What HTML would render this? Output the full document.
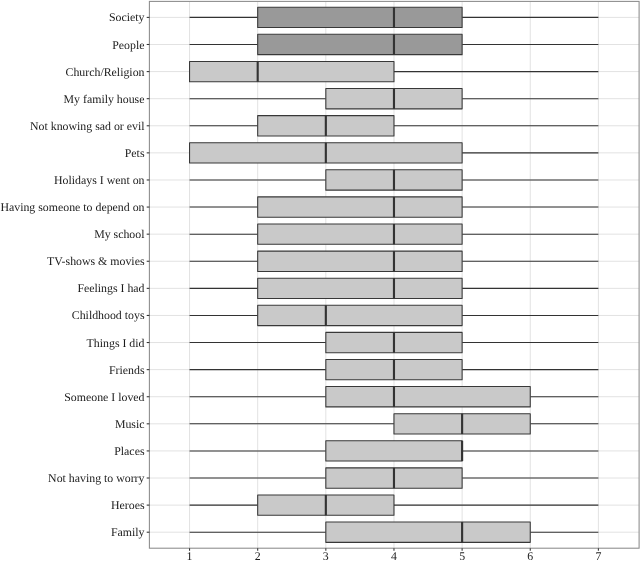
<!DOCTYPE html><html><head><meta charset="utf-8"><style>html,body{margin:0;padding:0;background:#fff}svg{display:block}text{text-rendering:geometricPrecision;font-family:"Liberation Serif","Times New Roman",serif;font-size:11.85px;fill:#1a1a1a}</style></head><body>
<svg width="640" height="562" viewBox="0 0 640 562">
<rect width="640" height="562" fill="#fff"/>
<line x1="189.55" x2="189.55" y1="1.4" y2="548.2" stroke="#e2e2e2" stroke-width="1"/>
<line x1="257.69" x2="257.69" y1="1.4" y2="548.2" stroke="#e2e2e2" stroke-width="1"/>
<line x1="325.83" x2="325.83" y1="1.4" y2="548.2" stroke="#e2e2e2" stroke-width="1"/>
<line x1="393.97" x2="393.97" y1="1.4" y2="548.2" stroke="#e2e2e2" stroke-width="1"/>
<line x1="462.11" x2="462.11" y1="1.4" y2="548.2" stroke="#e2e2e2" stroke-width="1"/>
<line x1="530.25" x2="530.25" y1="1.4" y2="548.2" stroke="#e2e2e2" stroke-width="1"/>
<line x1="598.39" x2="598.39" y1="1.4" y2="548.2" stroke="#e2e2e2" stroke-width="1"/>
<line x1="149.4" x2="639.1" y1="17.40" y2="17.40" stroke="#e2e2e2" stroke-width="1"/>
<line x1="149.4" x2="639.1" y1="44.49" y2="44.49" stroke="#e2e2e2" stroke-width="1"/>
<line x1="149.4" x2="639.1" y1="71.59" y2="71.59" stroke="#e2e2e2" stroke-width="1"/>
<line x1="149.4" x2="639.1" y1="98.68" y2="98.68" stroke="#e2e2e2" stroke-width="1"/>
<line x1="149.4" x2="639.1" y1="125.78" y2="125.78" stroke="#e2e2e2" stroke-width="1"/>
<line x1="149.4" x2="639.1" y1="152.87" y2="152.87" stroke="#e2e2e2" stroke-width="1"/>
<line x1="149.4" x2="639.1" y1="179.97" y2="179.97" stroke="#e2e2e2" stroke-width="1"/>
<line x1="149.4" x2="639.1" y1="207.06" y2="207.06" stroke="#e2e2e2" stroke-width="1"/>
<line x1="149.4" x2="639.1" y1="234.16" y2="234.16" stroke="#e2e2e2" stroke-width="1"/>
<line x1="149.4" x2="639.1" y1="261.25" y2="261.25" stroke="#e2e2e2" stroke-width="1"/>
<line x1="149.4" x2="639.1" y1="288.35" y2="288.35" stroke="#e2e2e2" stroke-width="1"/>
<line x1="149.4" x2="639.1" y1="315.44" y2="315.44" stroke="#e2e2e2" stroke-width="1"/>
<line x1="149.4" x2="639.1" y1="342.54" y2="342.54" stroke="#e2e2e2" stroke-width="1"/>
<line x1="149.4" x2="639.1" y1="369.63" y2="369.63" stroke="#e2e2e2" stroke-width="1"/>
<line x1="149.4" x2="639.1" y1="396.73" y2="396.73" stroke="#e2e2e2" stroke-width="1"/>
<line x1="149.4" x2="639.1" y1="423.82" y2="423.82" stroke="#e2e2e2" stroke-width="1"/>
<line x1="149.4" x2="639.1" y1="450.92" y2="450.92" stroke="#e2e2e2" stroke-width="1"/>
<line x1="149.4" x2="639.1" y1="478.01" y2="478.01" stroke="#e2e2e2" stroke-width="1"/>
<line x1="149.4" x2="639.1" y1="505.11" y2="505.11" stroke="#e2e2e2" stroke-width="1"/>
<line x1="149.4" x2="639.1" y1="532.20" y2="532.20" stroke="#e2e2e2" stroke-width="1"/>
<line x1="189.55" x2="257.69" y1="17.40" y2="17.40" stroke="#333" stroke-width="1.07"/>
<line x1="462.11" x2="598.39" y1="17.40" y2="17.40" stroke="#333" stroke-width="1.07"/>
<rect x="257.69" y="7.24" width="204.42" height="20.32" fill="#999999" stroke="#383838" stroke-width="1.07" stroke-linejoin="round"/>
<line x1="393.97" x2="393.97" y1="7.24" y2="27.56" stroke="#333" stroke-width="2.13"/>
<line x1="189.55" x2="257.69" y1="44.49" y2="44.49" stroke="#333" stroke-width="1.07"/>
<line x1="462.11" x2="598.39" y1="44.49" y2="44.49" stroke="#333" stroke-width="1.07"/>
<rect x="257.69" y="34.33" width="204.42" height="20.32" fill="#999999" stroke="#383838" stroke-width="1.07" stroke-linejoin="round"/>
<line x1="393.97" x2="393.97" y1="34.33" y2="54.66" stroke="#333" stroke-width="2.13"/>
<line x1="189.55" x2="189.55" y1="71.59" y2="71.59" stroke="#333" stroke-width="1.07"/>
<line x1="393.97" x2="598.39" y1="71.59" y2="71.59" stroke="#333" stroke-width="1.07"/>
<rect x="189.55" y="61.43" width="204.42" height="20.32" fill="#c9c9c9" stroke="#383838" stroke-width="1.07" stroke-linejoin="round"/>
<line x1="257.69" x2="257.69" y1="61.43" y2="81.75" stroke="#333" stroke-width="2.13"/>
<line x1="189.55" x2="325.83" y1="98.68" y2="98.68" stroke="#333" stroke-width="1.07"/>
<line x1="462.11" x2="598.39" y1="98.68" y2="98.68" stroke="#333" stroke-width="1.07"/>
<rect x="325.83" y="88.52" width="136.28" height="20.32" fill="#c9c9c9" stroke="#383838" stroke-width="1.07" stroke-linejoin="round"/>
<line x1="393.97" x2="393.97" y1="88.52" y2="108.84" stroke="#333" stroke-width="2.13"/>
<line x1="189.55" x2="257.69" y1="125.78" y2="125.78" stroke="#333" stroke-width="1.07"/>
<line x1="393.97" x2="598.39" y1="125.78" y2="125.78" stroke="#333" stroke-width="1.07"/>
<rect x="257.69" y="115.62" width="136.28" height="20.32" fill="#c9c9c9" stroke="#383838" stroke-width="1.07" stroke-linejoin="round"/>
<line x1="325.83" x2="325.83" y1="115.62" y2="135.94" stroke="#333" stroke-width="2.13"/>
<line x1="189.55" x2="189.55" y1="152.87" y2="152.87" stroke="#333" stroke-width="1.07"/>
<line x1="462.11" x2="598.39" y1="152.87" y2="152.87" stroke="#333" stroke-width="1.07"/>
<rect x="189.55" y="142.71" width="272.56" height="20.32" fill="#c9c9c9" stroke="#383838" stroke-width="1.07" stroke-linejoin="round"/>
<line x1="325.83" x2="325.83" y1="142.71" y2="163.03" stroke="#333" stroke-width="2.13"/>
<line x1="189.55" x2="325.83" y1="179.97" y2="179.97" stroke="#333" stroke-width="1.07"/>
<line x1="462.11" x2="598.39" y1="179.97" y2="179.97" stroke="#333" stroke-width="1.07"/>
<rect x="325.83" y="169.81" width="136.28" height="20.32" fill="#c9c9c9" stroke="#383838" stroke-width="1.07" stroke-linejoin="round"/>
<line x1="393.97" x2="393.97" y1="169.81" y2="190.13" stroke="#333" stroke-width="2.13"/>
<line x1="189.55" x2="257.69" y1="207.06" y2="207.06" stroke="#333" stroke-width="1.07"/>
<line x1="462.11" x2="598.39" y1="207.06" y2="207.06" stroke="#333" stroke-width="1.07"/>
<rect x="257.69" y="196.90" width="204.42" height="20.32" fill="#c9c9c9" stroke="#383838" stroke-width="1.07" stroke-linejoin="round"/>
<line x1="393.97" x2="393.97" y1="196.90" y2="217.22" stroke="#333" stroke-width="2.13"/>
<line x1="189.55" x2="257.69" y1="234.16" y2="234.16" stroke="#333" stroke-width="1.07"/>
<line x1="462.11" x2="598.39" y1="234.16" y2="234.16" stroke="#333" stroke-width="1.07"/>
<rect x="257.69" y="224.00" width="204.42" height="20.32" fill="#c9c9c9" stroke="#383838" stroke-width="1.07" stroke-linejoin="round"/>
<line x1="393.97" x2="393.97" y1="224.00" y2="244.32" stroke="#333" stroke-width="2.13"/>
<line x1="189.55" x2="257.69" y1="261.25" y2="261.25" stroke="#333" stroke-width="1.07"/>
<line x1="462.11" x2="598.39" y1="261.25" y2="261.25" stroke="#333" stroke-width="1.07"/>
<rect x="257.69" y="251.09" width="204.42" height="20.32" fill="#c9c9c9" stroke="#383838" stroke-width="1.07" stroke-linejoin="round"/>
<line x1="393.97" x2="393.97" y1="251.09" y2="271.41" stroke="#333" stroke-width="2.13"/>
<line x1="189.55" x2="257.69" y1="288.35" y2="288.35" stroke="#333" stroke-width="1.07"/>
<line x1="462.11" x2="598.39" y1="288.35" y2="288.35" stroke="#333" stroke-width="1.07"/>
<rect x="257.69" y="278.19" width="204.42" height="20.32" fill="#c9c9c9" stroke="#383838" stroke-width="1.07" stroke-linejoin="round"/>
<line x1="393.97" x2="393.97" y1="278.19" y2="298.51" stroke="#333" stroke-width="2.13"/>
<line x1="189.55" x2="257.69" y1="315.44" y2="315.44" stroke="#333" stroke-width="1.07"/>
<line x1="462.11" x2="598.39" y1="315.44" y2="315.44" stroke="#333" stroke-width="1.07"/>
<rect x="257.69" y="305.28" width="204.42" height="20.32" fill="#c9c9c9" stroke="#383838" stroke-width="1.07" stroke-linejoin="round"/>
<line x1="325.83" x2="325.83" y1="305.28" y2="325.60" stroke="#333" stroke-width="2.13"/>
<line x1="189.55" x2="325.83" y1="342.54" y2="342.54" stroke="#333" stroke-width="1.07"/>
<line x1="462.11" x2="598.39" y1="342.54" y2="342.54" stroke="#333" stroke-width="1.07"/>
<rect x="325.83" y="332.38" width="136.28" height="20.32" fill="#c9c9c9" stroke="#383838" stroke-width="1.07" stroke-linejoin="round"/>
<line x1="393.97" x2="393.97" y1="332.38" y2="352.70" stroke="#333" stroke-width="2.13"/>
<line x1="189.55" x2="325.83" y1="369.63" y2="369.63" stroke="#333" stroke-width="1.07"/>
<line x1="462.11" x2="598.39" y1="369.63" y2="369.63" stroke="#333" stroke-width="1.07"/>
<rect x="325.83" y="359.47" width="136.28" height="20.32" fill="#c9c9c9" stroke="#383838" stroke-width="1.07" stroke-linejoin="round"/>
<line x1="393.97" x2="393.97" y1="359.47" y2="379.79" stroke="#333" stroke-width="2.13"/>
<line x1="189.55" x2="325.83" y1="396.73" y2="396.73" stroke="#333" stroke-width="1.07"/>
<line x1="530.25" x2="598.39" y1="396.73" y2="396.73" stroke="#333" stroke-width="1.07"/>
<rect x="325.83" y="386.57" width="204.42" height="20.32" fill="#c9c9c9" stroke="#383838" stroke-width="1.07" stroke-linejoin="round"/>
<line x1="393.97" x2="393.97" y1="386.57" y2="406.89" stroke="#333" stroke-width="2.13"/>
<line x1="189.55" x2="393.97" y1="423.82" y2="423.82" stroke="#333" stroke-width="1.07"/>
<line x1="530.25" x2="598.39" y1="423.82" y2="423.82" stroke="#333" stroke-width="1.07"/>
<rect x="393.97" y="413.66" width="136.28" height="20.32" fill="#c9c9c9" stroke="#383838" stroke-width="1.07" stroke-linejoin="round"/>
<line x1="462.11" x2="462.11" y1="413.66" y2="433.98" stroke="#333" stroke-width="2.13"/>
<line x1="189.55" x2="325.83" y1="450.92" y2="450.92" stroke="#333" stroke-width="1.07"/>
<line x1="462.11" x2="598.39" y1="450.92" y2="450.92" stroke="#333" stroke-width="1.07"/>
<rect x="325.83" y="440.76" width="136.28" height="20.32" fill="#c9c9c9" stroke="#383838" stroke-width="1.07" stroke-linejoin="round"/>
<line x1="462.11" x2="462.11" y1="440.76" y2="461.08" stroke="#333" stroke-width="2.13"/>
<line x1="189.55" x2="325.83" y1="478.01" y2="478.01" stroke="#333" stroke-width="1.07"/>
<line x1="462.11" x2="598.39" y1="478.01" y2="478.01" stroke="#333" stroke-width="1.07"/>
<rect x="325.83" y="467.85" width="136.28" height="20.32" fill="#c9c9c9" stroke="#383838" stroke-width="1.07" stroke-linejoin="round"/>
<line x1="393.97" x2="393.97" y1="467.85" y2="488.17" stroke="#333" stroke-width="2.13"/>
<line x1="189.55" x2="257.69" y1="505.11" y2="505.11" stroke="#333" stroke-width="1.07"/>
<line x1="393.97" x2="598.39" y1="505.11" y2="505.11" stroke="#333" stroke-width="1.07"/>
<rect x="257.69" y="494.94" width="136.28" height="20.32" fill="#c9c9c9" stroke="#383838" stroke-width="1.07" stroke-linejoin="round"/>
<line x1="325.83" x2="325.83" y1="494.94" y2="515.27" stroke="#333" stroke-width="2.13"/>
<line x1="189.55" x2="325.83" y1="532.20" y2="532.20" stroke="#333" stroke-width="1.07"/>
<line x1="530.25" x2="598.39" y1="532.20" y2="532.20" stroke="#333" stroke-width="1.07"/>
<rect x="325.83" y="522.04" width="204.42" height="20.32" fill="#c9c9c9" stroke="#383838" stroke-width="1.07" stroke-linejoin="round"/>
<line x1="462.11" x2="462.11" y1="522.04" y2="542.36" stroke="#333" stroke-width="2.13"/>
<rect x="149.4" y="1.4" width="489.70000000000005" height="546.8000000000001" fill="none" stroke="#8c8c8c" stroke-width="1.07"/>
<line x1="146.70000000000002" x2="149.4" y1="17.40" y2="17.40" stroke="#333" stroke-width="1.07"/>
<text x="144.5" y="21.45" text-anchor="end">Society</text>
<line x1="146.70000000000002" x2="149.4" y1="44.49" y2="44.49" stroke="#333" stroke-width="1.07"/>
<text x="144.5" y="48.54" text-anchor="end">People</text>
<line x1="146.70000000000002" x2="149.4" y1="71.59" y2="71.59" stroke="#333" stroke-width="1.07"/>
<text x="144.5" y="75.64" text-anchor="end">Church/Religion</text>
<line x1="146.70000000000002" x2="149.4" y1="98.68" y2="98.68" stroke="#333" stroke-width="1.07"/>
<text x="144.5" y="102.73" text-anchor="end">My family house</text>
<line x1="146.70000000000002" x2="149.4" y1="125.78" y2="125.78" stroke="#333" stroke-width="1.07"/>
<text x="144.5" y="129.83" text-anchor="end">Not knowing sad or evil</text>
<line x1="146.70000000000002" x2="149.4" y1="152.87" y2="152.87" stroke="#333" stroke-width="1.07"/>
<text x="144.5" y="156.92" text-anchor="end">Pets</text>
<line x1="146.70000000000002" x2="149.4" y1="179.97" y2="179.97" stroke="#333" stroke-width="1.07"/>
<text x="144.5" y="184.02" text-anchor="end">Holidays I went on</text>
<line x1="146.70000000000002" x2="149.4" y1="207.06" y2="207.06" stroke="#333" stroke-width="1.07"/>
<text x="144.5" y="211.11" text-anchor="end">Having someone to depend on</text>
<line x1="146.70000000000002" x2="149.4" y1="234.16" y2="234.16" stroke="#333" stroke-width="1.07"/>
<text x="144.5" y="238.21" text-anchor="end">My school</text>
<line x1="146.70000000000002" x2="149.4" y1="261.25" y2="261.25" stroke="#333" stroke-width="1.07"/>
<text x="144.5" y="265.30" text-anchor="end">TV-shows &amp; movies</text>
<line x1="146.70000000000002" x2="149.4" y1="288.35" y2="288.35" stroke="#333" stroke-width="1.07"/>
<text x="144.5" y="292.40" text-anchor="end">Feelings I had</text>
<line x1="146.70000000000002" x2="149.4" y1="315.44" y2="315.44" stroke="#333" stroke-width="1.07"/>
<text x="144.5" y="319.49" text-anchor="end">Childhood toys</text>
<line x1="146.70000000000002" x2="149.4" y1="342.54" y2="342.54" stroke="#333" stroke-width="1.07"/>
<text x="144.5" y="346.59" text-anchor="end">Things I did</text>
<line x1="146.70000000000002" x2="149.4" y1="369.63" y2="369.63" stroke="#333" stroke-width="1.07"/>
<text x="144.5" y="373.68" text-anchor="end">Friends</text>
<line x1="146.70000000000002" x2="149.4" y1="396.73" y2="396.73" stroke="#333" stroke-width="1.07"/>
<text x="144.5" y="400.78" text-anchor="end">Someone I loved</text>
<line x1="146.70000000000002" x2="149.4" y1="423.82" y2="423.82" stroke="#333" stroke-width="1.07"/>
<text x="144.5" y="427.87" text-anchor="end">Music</text>
<line x1="146.70000000000002" x2="149.4" y1="450.92" y2="450.92" stroke="#333" stroke-width="1.07"/>
<text x="144.5" y="454.97" text-anchor="end">Places</text>
<line x1="146.70000000000002" x2="149.4" y1="478.01" y2="478.01" stroke="#333" stroke-width="1.07"/>
<text x="144.5" y="482.06" text-anchor="end">Not having to worry</text>
<line x1="146.70000000000002" x2="149.4" y1="505.11" y2="505.11" stroke="#333" stroke-width="1.07"/>
<text x="144.5" y="509.16" text-anchor="end">Heroes</text>
<line x1="146.70000000000002" x2="149.4" y1="532.20" y2="532.20" stroke="#333" stroke-width="1.07"/>
<text x="144.5" y="536.25" text-anchor="end">Family</text>
<line x1="189.55" x2="189.55" y1="548.2" y2="550.8000000000001" stroke="#333" stroke-width="1.07"/>
<text x="189.55" y="560.4" text-anchor="middle">1</text>
<line x1="257.69" x2="257.69" y1="548.2" y2="550.8000000000001" stroke="#333" stroke-width="1.07"/>
<text x="257.69" y="560.4" text-anchor="middle">2</text>
<line x1="325.83" x2="325.83" y1="548.2" y2="550.8000000000001" stroke="#333" stroke-width="1.07"/>
<text x="325.83" y="560.4" text-anchor="middle">3</text>
<line x1="393.97" x2="393.97" y1="548.2" y2="550.8000000000001" stroke="#333" stroke-width="1.07"/>
<text x="393.97" y="560.4" text-anchor="middle">4</text>
<line x1="462.11" x2="462.11" y1="548.2" y2="550.8000000000001" stroke="#333" stroke-width="1.07"/>
<text x="462.11" y="560.4" text-anchor="middle">5</text>
<line x1="530.25" x2="530.25" y1="548.2" y2="550.8000000000001" stroke="#333" stroke-width="1.07"/>
<text x="530.25" y="560.4" text-anchor="middle">6</text>
<line x1="598.39" x2="598.39" y1="548.2" y2="550.8000000000001" stroke="#333" stroke-width="1.07"/>
<text x="598.39" y="560.4" text-anchor="middle">7</text>
</svg></body></html>
